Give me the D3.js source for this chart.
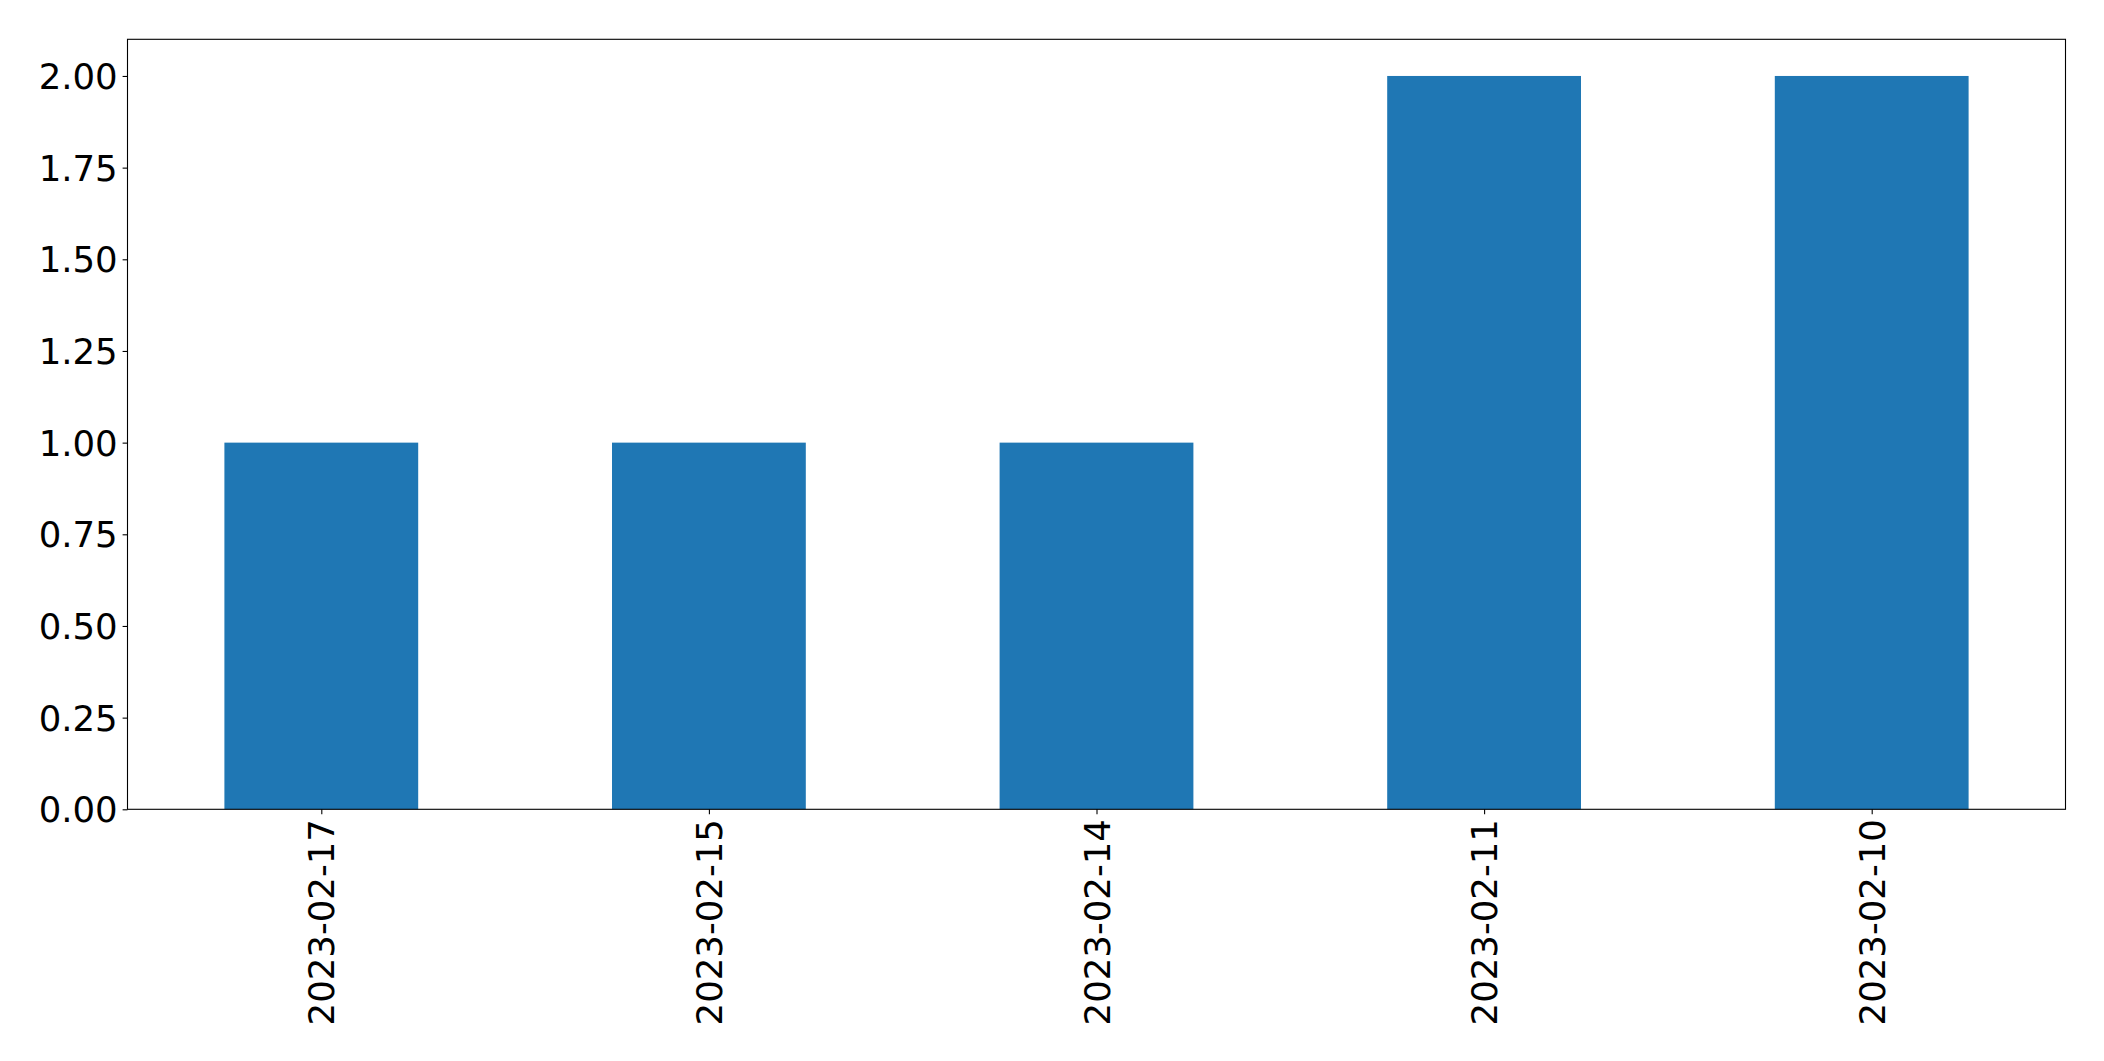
<!DOCTYPE html>
<html>
<head>
<meta charset="utf-8">
<script src="https://cdn.jsdelivr.net/npm/d3@7"></script>
<style>
  html, body { margin: 0; padding: 0; background: #fff; }
  svg { display: block; }
</style>
</head>
<body>
<svg id="chart" width="2104" height="1061"></svg>
<script>
const categories = ["2023-02-17", "2023-02-15", "2023-02-14", "2023-02-11", "2023-02-10"];
const values = [1, 1, 1, 2, 2];
const yTicks = [0, 0.25, 0.5, 0.75, 1.0, 1.25, 1.5, 1.75, 2.0];

const W = 2104, H = 1061;
const margin = { left: 127.5, right: W - 2065.5, top: 39.3, bottom: H - 809.3 };
const iw = W - margin.left - margin.right;
const ih = H - margin.top - margin.bottom;
const fontSize = 35.5;
const tickLen = 4.9, pad = 4.9;

const svg = d3.select("#chart");
const g = svg.append("g").attr("transform", `translate(${margin.left},${margin.top})`);

const x = d3.scaleLinear().domain([-0.5, categories.length - 0.5]).range([0, iw]);
const y = d3.scaleLinear().domain([0, 2.1]).range([ih, 0]);
const barW = 0.5;

g.selectAll("rect.bar").data(values).join("rect")
  .attr("class", "bar")
  .attr("x", (d, i) => x(i - barW / 2))
  .attr("width", (d, i) => x(i + barW / 2) - x(i - barW / 2))
  .attr("y", d => y(d))
  .attr("height", d => y(0) - y(d))
  .attr("fill", "#1f77b4");

// y axis
const yAxis = d3.axisLeft(y).tickValues(yTicks).tickFormat(d3.format(".2f"))
  .tickSize(tickLen).tickPadding(pad);
const ya = g.append("g").call(yAxis);
ya.select(".domain").remove();
ya.selectAll("line").attr("stroke", "#000").attr("stroke-width", 1.1);
ya.selectAll("text").attr("font-family", "DejaVu Sans").attr("font-size", fontSize)
  .attr("fill", "#000").attr("dy", "0.35em");

// x axis
const xAxis = d3.axisBottom(x).tickValues(d3.range(categories.length))
  .tickFormat(i => categories[i]).tickSize(tickLen).tickPadding(pad);
const xa = g.append("g").attr("transform", `translate(0,${ih})`).call(xAxis);
xa.select(".domain").remove();
xa.selectAll("line").attr("stroke", "#000").attr("stroke-width", 1.1);
xa.selectAll("text")
  .attr("font-family", "DejaVu Sans").attr("font-size", fontSize).attr("fill", "#000")
  .attr("text-anchor", "end")
  .attr("dy", null)
  .attr("y", 0)
  .attr("transform", `translate(0,${tickLen + pad}) rotate(-90)`)
  .attr("dominant-baseline", "central");

// frame
g.append("rect").attr("x", 0).attr("y", 0).attr("width", iw).attr("height", ih)
  .attr("fill", "none").attr("stroke", "#000").attr("stroke-width", 1.1);
</script>
</body>
</html>
